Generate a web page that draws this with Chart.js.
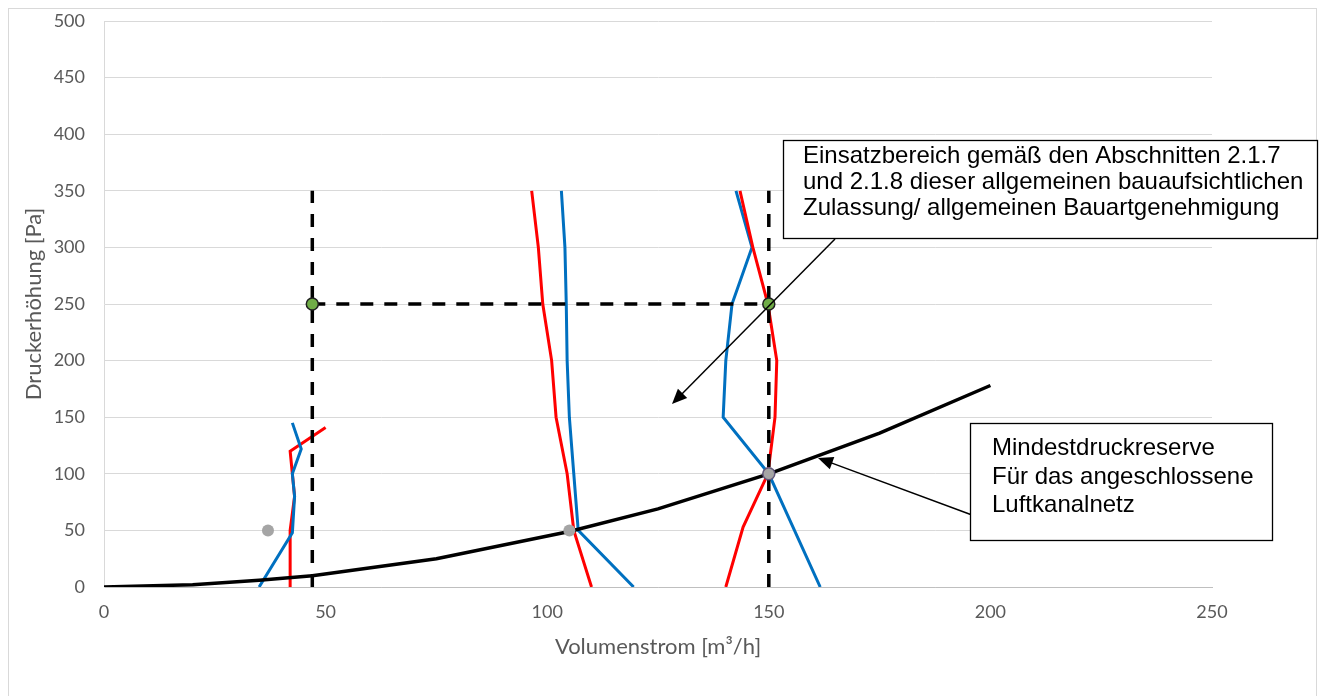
<!DOCTYPE html>
<html>
<head>
<meta charset="utf-8">
<script src="https://cdn.jsdelivr.net/npm/chart.js@4.4.1/dist/chart.umd.min.js"></script>
<style>
  html, body { margin: 0; padding: 0; background: #fff; }
  #wrap { width: 1323px; height: 696px; }
</style>
</head>
<body>
<div id="wrap"><canvas id="chart" width="1323" height="696"></canvas></div>
<script>
// ---- data ----
const xTicks = [0, 50, 100, 150, 200, 250];
const yTicks = [0, 50, 100, 150, 200, 250, 300, 350, 400, 450, 500];

// Anlagenkennlinie (black)
const systemX = [0, 20, 35, 47, 75, 105, 125, 150, 175, 200];
const systemY = [0, 2, 6, 10, 25, 49, 69, 100, 136, 178];

// left pair
const redLeftX  = [42, 42, 43, 42, 50];
const redLeftY  = [0, 50, 80, 120, 141];
const blueLeftX = [35, 42.5, 43, 42.5, 44.5, 42.5];
const blueLeftY = [0, 48, 80, 100, 122, 145];

// middle pair
const redMidX  = [110, 106, 104.5, 102, 101, 99, 98, 96.5];
const redMidY  = [0, 50, 100, 150, 200, 250, 300, 350];
const blueMidX = [119.5, 107, 106, 105, 104.5, 104.3, 104, 103.2];
const blueMidY = [0, 50, 100, 150, 200, 250, 300, 350];

// right pair
const redRightX  = [140.3, 144.2, 149.8, 151.4, 151.8, 149.8, 146.4, 143.5];
const redRightY  = [0, 53, 100, 150, 200, 250, 300, 350];
const blueRightX = [161.6, 150, 139.7, 140.3, 141.7, 146.2, 142.6];
const blueRightY = [0, 100, 150, 200, 250, 300, 350];

// dashed operating range
const dashLeftX  = [47, 47];
const dashLeftY  = [0, 350];
const dashRightX = [150, 150];
const dashRightY = [0, 350];
const dashTopX   = [47, 150];
const dashTopY   = [250, 250];

// markers
const greenX = [47, 150];
const greenY = [250, 250];
const grayX  = [37, 105];
const grayY  = [50, 50];
const reserveX = [150];
const reserveY = [100];

const pts = (xs, ys) => xs.map((x, i) => ({ x: x, y: ys[i] }));

const line = (xs, ys, color, width, order, dash) => ({
    data: pts(xs, ys),
    showLine: true,
    borderColor: color,
    borderWidth: width,
    borderDash: dash || [],
    borderCapStyle: 'butt',
    pointRadius: 0,
    tension: 0,
    order: order
});

const dots = (xs, ys, fill, border, bw, order) => ({
    data: pts(xs, ys),
    showLine: false,
    pointRadius: 6,
    pointBackgroundColor: fill,
    pointBorderColor: border,
    pointBorderWidth: bw,
    order: order
});

// frame, text boxes and arrows
const decorations = {
    id: 'decorations',
    beforeDraw(chart) {
        const ctx = chart.ctx;
        ctx.save();
        ctx.fillStyle = '#fff';
        ctx.fillRect(0, 0, chart.width, chart.height);
        ctx.strokeStyle = '#d9d9d9';
        ctx.lineWidth = 1;
        ctx.strokeRect(8.5, 8.5, 1308, 700);
        ctx.restore();
    },
    afterDraw(chart) {
        const ctx = chart.ctx;
        ctx.save();

        const arrow = (x1, y1, x2, y2, w) => {
            const a = Math.atan2(y2 - y1, x2 - x1);
            const len = 15, half = 6.5;
            ctx.strokeStyle = '#000';
            ctx.lineWidth = w;
            ctx.beginPath();
            ctx.moveTo(x1, y1);
            ctx.lineTo(x2 - Math.cos(a) * len * 0.8, y2 - Math.sin(a) * len * 0.8);
            ctx.stroke();
            ctx.fillStyle = '#000';
            ctx.beginPath();
            ctx.moveTo(x2, y2);
            ctx.lineTo(x2 - Math.cos(a) * len - Math.sin(a) * half, y2 - Math.sin(a) * len + Math.cos(a) * half);
            ctx.lineTo(x2 - Math.cos(a) * len + Math.sin(a) * half, y2 - Math.sin(a) * len - Math.cos(a) * half);
            ctx.closePath();
            ctx.fill();
        };

        const box = (x, y, w, h, lines, tx, baselines) => {
            ctx.fillStyle = '#fff';
            ctx.fillRect(x, y, w, h);
            ctx.strokeStyle = '#000';
            ctx.lineWidth = 1.3;
            ctx.strokeRect(x, y, w, h);
            ctx.fillStyle = '#000';
            ctx.font = '24px "Liberation Sans", Arial, sans-serif';
            ctx.textAlign = 'left';
            ctx.textBaseline = 'alphabetic';
            lines.forEach((t, i) => ctx.fillText(t, tx, baselines[i]));
        };

        arrow(835, 239, 672, 404, 1.5);
        box(783.5, 140.5, 534, 98, [
            'Einsatzbereich gemäß den Abschnitten 2.1.7',
            'und 2.1.8 dieser allgemeinen bauaufsichtlichen',
            'Zulassung/ allgemeinen Bauartgenehmigung'
        ], 803, [163, 189, 215]);

        arrow(972, 515, 818, 458, 1.5);
        box(970.5, 423.5, 302, 117, [
            'Mindestdruckreserve',
            'Für das angeschlossene',
            'Luftkanalnetz'
        ], 992, [455, 484, 512]);

        ctx.restore();
    }
};

const tickFont = { family: 'Lato, "Open Sans", sans-serif', size: 18 };
const titleFont = { family: 'Lato, "Open Sans", sans-serif', size: 22 };

new Chart(document.getElementById('chart'), {
    type: 'scatter',
    data: {
        datasets: [
            dots(reserveX, reserveY, '#a5a5a5', '#5f5579', 1.5, 1),
            dots(greenX, greenY, '#70ad47', '#1f1f1f', 1.5, 2),
            dots(grayX, grayY, '#a5a5a5', '#a5a5a5', 0, 3),
            line(systemX, systemY, '#000000', 3.5, 4),
            line(dashLeftX, dashLeftY, '#000000', 3.5, 5, [13, 11]),
            line(dashRightX, dashRightY, '#000000', 3.5, 5, [13, 11]),
            line(dashTopX, dashTopY, '#000000', 3.5, 5, [13, 11]),
            line(redLeftX, redLeftY, '#ff0000', 3, 7),
            line(blueLeftX, blueLeftY, '#0070c0', 3, 6),
            line(redMidX, redMidY, '#ff0000', 3, 7),
            line(blueMidX, blueMidY, '#0070c0', 3, 6),
            line(redRightX, redRightY, '#ff0000', 3, 6),
            line(blueRightX, blueRightY, '#0070c0', 3, 7)
        ]
    },
    options: {
        responsive: false,
        animation: false,
        layout: { padding: { left: 0, top: 21, right: 111, bottom: 0 } },
        plugins: {
            legend: { display: false },
            tooltip: { enabled: false }
        },
        scales: {
            x: {
                type: 'linear',
                min: xTicks[0],
                max: xTicks[xTicks.length - 1],
                afterFit: s => { s.height = 109; },
                afterBuildTicks: s => { s.ticks = xTicks.map(v => ({ value: v })); },
                ticks: { color: '#595959', font: tickFont, padding: 14, maxRotation: 0 },
                grid: { display: false, drawTicks: false },
                border: { display: true, color: '#bfbfbf', width: 1 },
                title: {
                    display: true,
                    text: 'Volumenstrom [m³/h]',
                    color: '#595959',
                    font: titleFont,
                    padding: { top: 0, bottom: 36 }
                }
            },
            y: {
                type: 'linear',
                min: yTicks[0],
                max: yTicks[yTicks.length - 1],
                afterFit: s => { s.width = 104; s.paddingTop = 0; s.paddingBottom = 0; },
                afterBuildTicks: s => { s.ticks = yTicks.map(v => ({ value: v })); },
                ticks: { color: '#595959', font: tickFont, padding: 19 },
                grid: { color: '#d9d9d9', lineWidth: 1, drawTicks: false },
                border: { display: true, color: '#d9d9d9', width: 1 },
                title: {
                    display: true,
                    text: 'Druckerhöhung [Pa]',
                    color: '#595959',
                    font: titleFont,
                    padding: { top: 21, bottom: 0 }
                }
            }
        }
    },
    plugins: [decorations]
});
</script>
</body>
</html>
